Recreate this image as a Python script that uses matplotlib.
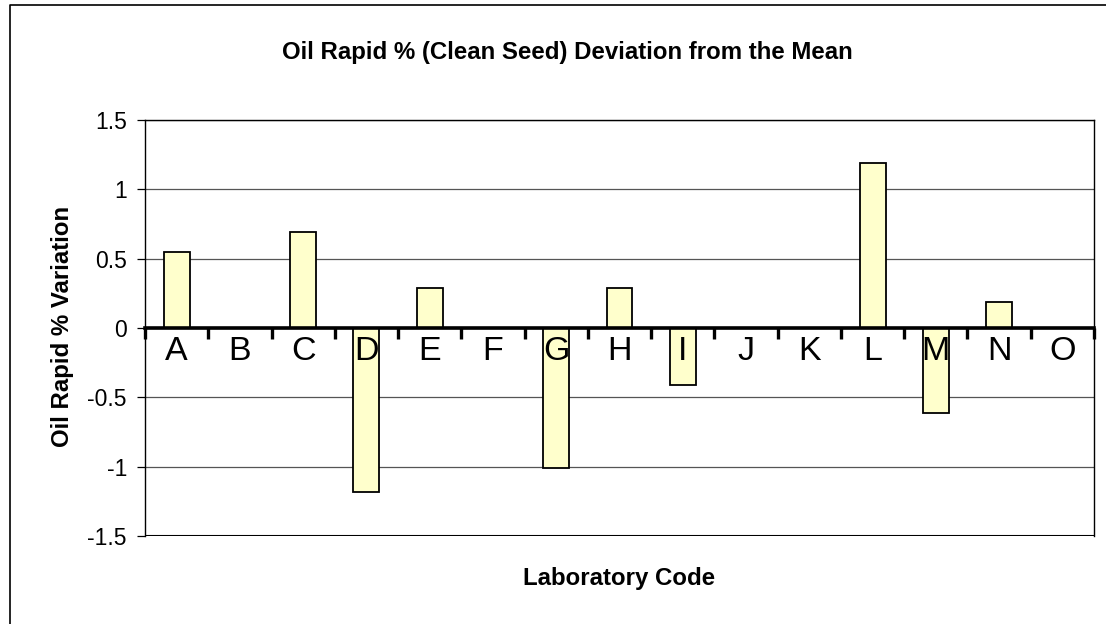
import matplotlib
matplotlib.use("Agg")
import matplotlib.pyplot as plt
from matplotlib.lines import Line2D
import numpy as np

labs = ["A", "B", "C", "D", "E", "F", "G", "H", "I", "J", "K", "L", "M", "N", "O"]
vals = [0.55, 0, 0.69, -1.18, 0.29, 0, -1.01, 0.29, -0.41, 0, 0, 1.19, -0.61, 0.19, 0]
yticks = [-1.5, -1, -0.5, 0, 0.5, 1, 1.5]
ytick_labels = ["-1.5", "-1", "-0.5", "0", "0.5", "1", "1.5"]

plt.rcParams['font.family'] = ['Liberation Sans', 'DejaVu Sans']
dpi = 100
fig = plt.figure(figsize=(1106 / dpi, 624 / dpi), dpi=dpi)
W, H = 1106, 624
L, R, T, B = 145, 1094, 120, 536
ax = fig.add_axes([L / W, 1 - B / H, (R - L) / W, (B - T) / H])

x = np.arange(len(labs))
ax.bar(x, vals, width=0.41, color="#FFFFCC", edgecolor="black", linewidth=1.3, zorder=3)

ax.set_xlim(-0.5, len(labs) - 0.5)
ax.set_ylim(-1.5, 1.5)
ax.set_yticks(yticks)
ax.set_yticklabels(ytick_labels, fontsize=16.5)
ax.yaxis.grid(True, color="#555555", linewidth=0.9, zorder=0)
ax.tick_params(axis="y", length=6, width=0.9, pad=7, direction="out")

# category axis at zero
ax.spines['bottom'].set_position(('data', 0))
ax.spines['bottom'].set_linewidth(2.6)
ax.spines['bottom'].set_zorder(4)
ax.xaxis.set_zorder(5)
ax.set_xticks(np.arange(len(labs) + 1) - 0.5)
ax.set_xticklabels([])
ax.set_xticks(x, minor=True)
ax.set_xticklabels(labs, minor=True, fontsize=24.5)
ax.tick_params(axis="x", which="major", length=8, width=2.4, direction="out")
ax.tick_params(axis="x", which="minor", length=0, pad=6)
for s in ['top', 'left', 'right']:
    ax.spines[s].set_linewidth(1.0)
ax.axhline(-1.5, color="black", linewidth=1.5, zorder=4)

fig.text(567 / W, 1 - 52 / H, "Oil Rapid % (Clean Seed) Deviation from the Mean",
         ha="center", va="center", fontsize=17.3, fontweight="bold")
fig.text(619 / W, 1 - 579 / H, "Laboratory Code", ha="center", va="center",
         fontsize=17.3, fontweight="bold")
fig.text(62 / W, 1 - 326 / H, "Oil Rapid % Variation", ha="center", va="center",
         fontsize=17.3, fontweight="bold", rotation=90)

fig.lines.append(Line2D([10 / W, 10 / W, 1.0], [0.0, 1 - 5 / H, 1 - 5 / H],
                        transform=fig.transFigure, color="black", linewidth=1.2))

fig.savefig("out.png", dpi=dpi)
